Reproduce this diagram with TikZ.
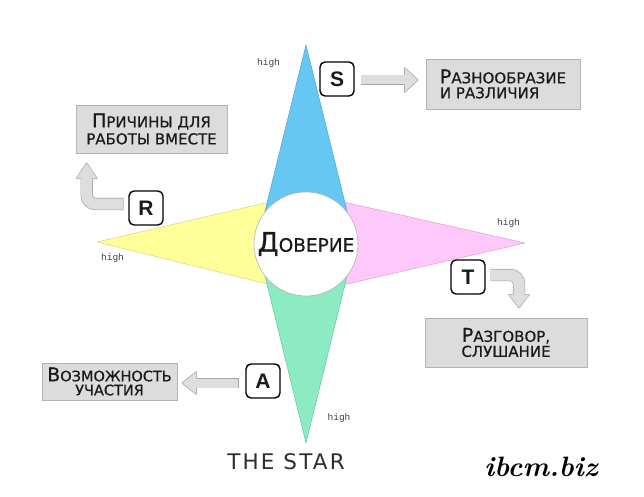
\documentclass[tikz,border=0pt]{standalone}
\usepackage{fontspec}
\newfontfamily\dvs[FakeBold=0.6]{DejaVu Sans}
\newfontfamily\lsans{Liberation Sans}
\newfontfamily\lmono{Liberation Mono}
\newfontfamily\starfont[LetterSpace=10]{DejaVu Sans}
\usetikzlibrary{calc}
\definecolor{armblue}{HTML}{66C8F2}
\definecolor{armblueline}{HTML}{4AA6D4}
\definecolor{armyellow}{HTML}{FFFF99}
\definecolor{armyellowline}{HTML}{D6D67A}
\definecolor{armpink}{HTML}{FFC8FA}
\definecolor{armpinkline}{HTML}{D9A2D6}
\definecolor{armgreen}{HTML}{8CEBC3}
\definecolor{armgreenline}{HTML}{62C79F}
\definecolor{boxfill}{HTML}{DCDCDC}
\definecolor{boxline}{HTML}{B4B4B4}
\definecolor{arrfill}{HTML}{DEDEDE}
\definecolor{arrline}{HTML}{A6A6A6}
\definecolor{ink}{HTML}{1A1A1A}
\newcommand\fsc[2]{{\fontsize{19}{17}\selectfont #1}#2}
% #1 outer width, #2 inner width, #3 shaft path, #4 head path
\newcommand\fatarrow[4]{%
  \draw[line width=#1, arrline, line cap=rect, rounded corners=9pt] #3;
  \filldraw[arrline, line width=1.4pt, line join=round] #4;
  \draw[line width=#2, arrfill, line cap=rect, rounded corners=9pt] #3;
  \fill[arrfill] #4;}
\tikzset{
  arm/.style={line width=0.5pt, line join=round},
  letterbox/.style={draw=black, line width=1.4pt, rounded corners=5pt, fill=white,
    minimum width=34pt, minimum height=34pt, inner sep=0pt,
    font=\lsans\bfseries\fontsize{21}{21}\selectfont, text=ink},
  textbox/.style={draw=boxline, fill=boxfill, line width=0.6pt, inner sep=0pt,
    align=center, text=ink},
  hightext/.style={font=\lmono\fontsize{9.5}{9.5}\selectfont, text=black!75, inner sep=0pt},
}
\begin{document}
\begin{tikzpicture}[x=1pt,y=-1pt]
\useasboundingbox[fill=white] (0,0) rectangle (644,497);
% star arms
\filldraw[arm, fill=armyellow, draw=armyellowline] (97,242) -- (306,193.5) -- (306,293.5) -- cycle;
\filldraw[arm, fill=armpink, draw=armpinkline] (525,243) -- (306,193.5) -- (306,293.5) -- cycle;
\filldraw[arm, fill=armblue, draw=armblueline] (306,45) -- (257,243.5) -- (355,243.5) -- cycle;
\filldraw[arm, fill=armgreen, draw=armgreenline] (306,443) -- (257,243.5) -- (355,243.5) -- cycle;
% centre
\node[circle, minimum size=104pt, fill=white, draw=black!30, line width=0.6pt, inner sep=0pt,
  font=\dvs, text=ink] (trust) at (306,244)
  {{\fontsize{27}{27}\selectfont Д}{\fontsize{18.5}{18.5}\selectfont ОВЕРИЕ}};
% high labels
\node[hightext] (h1) at (268.5,63) {high};
\node[hightext] (h2) at (112.5,258) {high};
\node[hightext] (h3) at (508.5,223) {high};
\node[hightext] (h4) at (339,418) {high};
% letter boxes
\node[letterbox] (S) at (337,79) {S};
\node[letterbox] (R) at (146,208) {R};
\node[letterbox] (T) at (468,277) {T};
\node[letterbox] (A) at (263,381) {A};
% text boxes
\node[textbox, minimum width=151pt, minimum height=48pt,
  font=\dvs\fontsize{15}{17}\selectfont] (why) at (151.5,129)
  {\fsc{П}{РИЧИНЫ ДЛЯ}\\РАБОТЫ ВМЕСТЕ};
\node[textbox, minimum width=154pt, minimum height=50pt, align=left,
  font=\dvs\fontsize{15}{15}\selectfont] (div) at (503,84)
  {\fsc{Р}{АЗНООБРАЗИЕ}\\ И РАЗЛИЧИЯ};
\node[textbox, minimum width=162pt, minimum height=49pt,
  font=\dvs\fontsize{15}{15}\selectfont] (talk) at (506,342.5)
  {\fsc{Р}{АЗГОВОР,}\\СЛУШАНИЕ};
\node[textbox, minimum width=135pt, minimum height=37pt,
  font=\dvs\fontsize{14.5}{14}\selectfont] (part) at (109.5,381.5)
  {\fsc{В}{ОЗМОЖНОСТЬ}\\УЧАСТИЯ};
% arrow end points
\coordinate (s0) at ($(S.east)+(11,1)$);
\coordinate (s1) at ($(div.west |- s0)+(-8,0)$);
\coordinate (a0) at ($(A.west)+(-12,2)$);
\coordinate (a1) at ($(part.east |- a0)+(5,0)$);
\coordinate (r0) at ($(R.west)+(-11,-4)$);
\coordinate (r1) at ($(why.south west)+(11,10)$);
\coordinate (t0) at ($(T.east)+(11,-2)$);
\coordinate (t1) at ($(talk.north)+(13,-10)$);
% arrows
\fatarrow{10.4pt}{9pt}{(s0) -- ($(s1)+(-13,0)$)}
  {($(s1)+(-13,-12)$) -- (s1) -- ($(s1)+(-13,12)$) -- cycle}
\fatarrow{10.4pt}{9pt}{(a0) -- ($(a1)+(14,0)$)}
  {($(a1)+(14,-11)$) -- (a1) -- ($(a1)+(14,11)$) -- cycle}
\fatarrow{12.4pt}{11pt}{(r0) -| ($(r1)+(0,15)$)}
  {($(r1)+(-10,15)$) -- (r1) -- ($(r1)+(10,15)$) -- cycle}
\fatarrow{12.4pt}{11pt}{(t0) -| ($(t1)+(0,-13)$)}
  {($(t1)+(-10,-13)$) -- (t1) -- ($(t1)+(10,-13)$) -- cycle}
% captions
\node[font=\starfont\fontsize{21.5}{21.5}\selectfont, text=black!82] (title) at (286,462) {THE STAR};
\node[font=\itshape\bfseries\fontsize{28}{28}\selectfont, text=black] (site) at (541,467) {ibcm.biz};
\end{tikzpicture}
\end{document}
